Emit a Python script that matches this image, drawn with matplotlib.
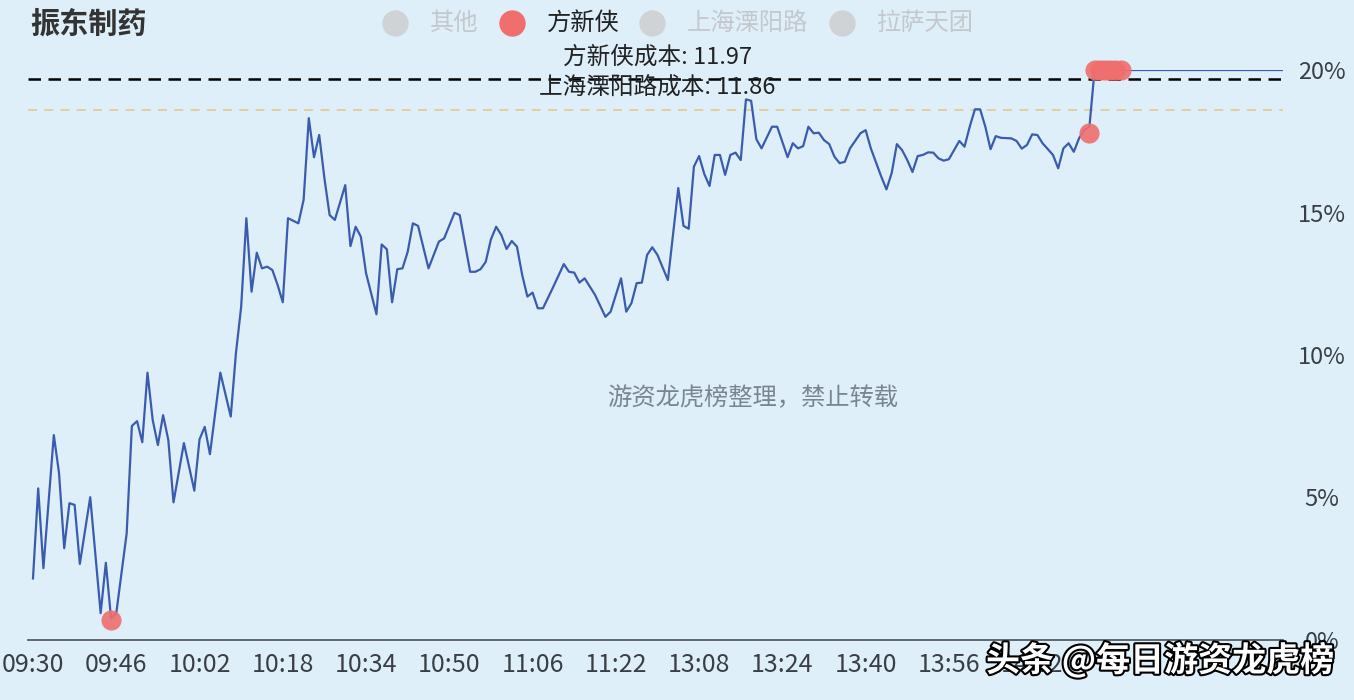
import matplotlib
matplotlib.use('Agg')
import matplotlib.pyplot as plt
import matplotlib.patheffects as pe

plt.rcParams['font.family'] = ['Noto Sans CJK SC', 'DejaVu Sans']

# minute index (0 = 09:30, 120 = 11:30/13:00, 240 = 15:00) and % change vs previous close
minute_idx = [0, 1, 2, 4, 5, 6, 7, 8, 9, 11, 13, 14, 15, 16, 18, 19, 20, 21, 22, 23,
              24, 25, 26, 27, 29, 31, 32, 33, 34, 36, 38, 39, 40, 41, 42, 43, 44, 45, 46, 47,
              48, 49, 51, 52, 53, 54, 55, 56, 57, 58, 60, 61, 62, 63, 64, 66, 67, 68, 69, 70,
              71, 72, 73, 74, 76, 78, 79, 81, 82, 84, 85, 86, 87, 88, 89, 90, 91, 92, 93, 94,
              95, 96, 97, 98, 100, 102, 103, 104, 105, 106, 108, 110, 111, 113, 114, 115, 116, 117, 118, 119,
              120, 122, 124, 125, 126, 127, 128, 129, 130, 131, 132, 133, 134, 135, 136, 137, 138, 139, 140, 142,
              143, 144, 145, 146, 147, 148, 149, 150, 151, 152, 153, 154, 155, 156, 157, 159, 160, 161, 163, 164,
              165, 166, 167, 168, 169, 170, 171, 172, 173, 174, 175, 176, 177, 178, 179, 180, 181, 182, 183, 184,
              185, 186, 188, 189, 190, 191, 192, 193, 194, 196, 197, 198, 199, 200, 201, 202, 203, 204, 240]
pct_change = [2.16, 5.32, 2.52, 7.19, 5.86, 3.22, 4.80, 4.74, 2.67, 5.01, 0.94, 2.71, 0.76, 0.94, 3.74, 7.51, 7.68, 6.94, 9.38, 7.72,
              6.84, 7.89, 7.02, 4.83, 6.91, 5.24, 7.04, 7.48, 6.52, 9.38, 7.84, 10.07, 11.69, 14.80, 12.22, 13.59, 13.04, 13.10, 12.98, 12.46,
              11.85, 14.80, 14.62, 15.44, 18.31, 16.94, 17.72, 16.20, 14.91, 14.74, 15.96, 13.82, 14.50, 14.15, 12.87, 11.43, 13.88, 13.71, 11.85, 13.01,
              13.04, 13.62, 14.62, 14.53, 13.04, 13.98, 14.09, 14.99, 14.91, 12.92, 12.92, 13.01, 13.27, 14.06, 14.50, 14.21, 13.72, 14.00, 13.80, 12.81,
              12.05, 12.19, 11.64, 11.64, 12.40, 13.19, 12.92, 12.89, 12.54, 12.69, 12.11, 11.34, 11.52, 12.69, 11.52, 11.82, 12.52, 12.54, 13.51, 13.78,
              13.51, 12.63, 15.86, 14.53, 14.43, 16.61, 16.98, 16.35, 15.93, 17.02, 17.02, 16.32, 17.02, 17.10, 16.84, 18.97, 18.92, 17.57, 17.25, 18.01,
              18.01, 17.48, 16.94, 17.43, 17.25, 17.33, 18.01, 17.78, 17.80, 17.54, 17.40, 16.96, 16.73, 16.78, 17.25, 17.78, 17.89, 17.25, 16.26, 15.81,
              16.38, 17.40, 17.19, 16.84, 16.42, 16.98, 17.02, 17.11, 17.10, 16.90, 16.82, 16.87, 17.19, 17.51, 17.31, 18.01, 18.62, 18.62, 18.01, 17.22,
              17.68, 17.62, 17.60, 17.51, 17.24, 17.37, 17.74, 17.72, 17.43, 17.02, 16.55, 17.25, 17.43, 17.13, 17.60, 17.89, 18.01, 20.00, 20.00]

# trades of 方新侠 (minute index, % change)
trade_idx = [15, 203, 204, 205, 206, 207, 208, 209]
trade_pct = [0.70, 17.80, 20.0, 20.0, 20.0, 20.0, 20.0, 20.0]

# cost lines
cost_names = ['方新侠成本: 11.97', '上海溧阳路成本: 11.86']
cost_pct = [19.7, 18.6]

tick_idx = [0, 16, 32, 48, 64, 80, 96, 112, 128, 144, 160, 176, 192]
tick_labels = ['09:30', '09:46', '10:02', '10:18', '10:34', '10:50', '11:06', '11:22',
               '13:08', '13:24', '13:40', '13:56', '14:12']
y_ticks = [0, 5, 10, 15, 20]

legend_names = ['其他', '方新侠', '上海溧阳路', '拉萨天团']
legend_active = [False, True, False, False]

bg = '#deeffa'
line_color = '#3a5cad'
red = '#f06e6e'

fig = plt.figure(figsize=(13.54, 7), dpi=100, facecolor=bg)
ax = fig.add_axes([28 / 1354, 60 / 700, 1255 / 1354, 570 / 700])
ax.set_facecolor(bg)

ax.plot(minute_idx, pct_change, color=line_color, lw=1.6, zorder=3)
ax.plot(trade_idx, trade_pct, 'o', ms=14.5, color=red, alpha=0.9, mec='none',
        clip_on=False, zorder=4)

ax.axhline(cost_pct[0], color='black', lw=1.8, ls=(0, (5, 3)), zorder=2)
ax.axhline(cost_pct[1], color='#e3cc96', lw=1.3, ls=(0, (5, 4)), zorder=2)
ax.text(120, 20.46, cost_names[0], ha='center', va='center',
        fontsize=17, color='#222222', zorder=5)
ax.text(120, 19.40, cost_names[1], ha='center', va='center',
        fontsize=17, color='#222222', zorder=5)

ax.set_xlim(-0.96, 240.2)
ax.set_ylim(0, 20)
for s in ['top', 'left', 'right']:
    ax.spines[s].set_visible(False)
ax.spines['bottom'].set_color('#4a4f55')
ax.spines['bottom'].set_linewidth(1.2)

ax.set_xticks(tick_idx)
ax.set_xticklabels(tick_labels)
ax.tick_params(axis='x', length=0, pad=9, labelsize=18, labelcolor='#3a3f45')
ax.yaxis.tick_right()
ax.set_yticks(y_ticks)
ax.set_yticklabels([f'{v}%' for v in y_ticks])
ax.tick_params(axis='y', length=0, pad=28, labelsize=17, labelcolor='#3a3f45')
for lab in ax.get_yticklabels():
    lab.set_horizontalalignment('center')

# title and legend
fig.text(30 / 1354, 1 - 24 / 700, '振东制药', fontsize=21, fontweight='bold',
         color='#333333', va='center', ha='left')
legend_x = [395, 512, 652, 842]
for name, active, lx in zip(legend_names, legend_active, legend_x):
    c = red if active else '#cfd3d6'
    tc = '#222222' if active else '#c4c8cc'
    ax.plot([lx / 1354], [1 - 23 / 700], 'o', ms=19, color=c, mec='none',
            transform=fig.transFigure, clip_on=False)
    fig.text((lx + 35) / 1354, 1 - 23 / 700, name, fontsize=17.5, color=tc,
             va='center', ha='left')

# watermarks
ax.text((753 - 28) / 1255, (640 - 398) / 570, '游资龙虎榜整理，禁止转载',
        transform=ax.transAxes, ha='center', va='center', fontsize=17.5,
        color='#7a8592', zorder=1)
fig.text(1160 / 1354, 1 - 660 / 700, '头条 @每日游资龙虎榜', ha='center', va='center',
         fontsize=24.5, color='white', fontweight='bold',
         path_effects=[pe.withStroke(linewidth=3, foreground='black')])

fig.savefig('out.png', dpi=100, facecolor=bg)
